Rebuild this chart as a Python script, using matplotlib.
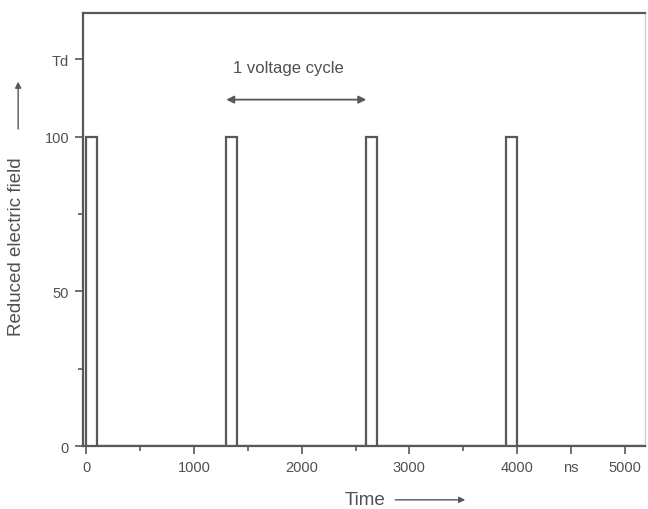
import matplotlib.pyplot as plt
import numpy as np

plt.rcParams['font.family'] = ['Liberation Sans', 'DejaVu Sans']

# Data
pulse_starts = [0, 1300, 2600, 3900]   # ns
pulse_width = 100                      # ns
pulse_height = 100
x_end = 5185

x_ticks = [0, 1000, 2000, 3000, 4000, 4500, 5000]
x_tick_labels = ['0', '1000', '2000', '3000', '4000', 'ns', '5000']
x_minor = [500, 1500, 2500, 3500]
y_ticks = [0, 50, 100, 125]
y_tick_labels = ['0', '50', '100', 'Td']
y_minor = [25, 75]

# build the pulse train as a polyline
xs, ys = [], []
for s in pulse_starts:
    xs += [s, s, s + pulse_width, s + pulse_width]
    ys += [0, pulse_height, pulse_height, 0]
xs.append(x_end)
ys.append(0)

ink = '#585858'
txt = '#505050'

fig = plt.figure(figsize=(6.48, 5.10), dpi=100, facecolor='white')
ax = fig.add_axes([0.128, 0.1235, 0.867, 0.849])

ax.plot(xs, ys, color=ink, linewidth=1.6, solid_joinstyle='miter')

ax.set_xlim(-30, x_end)
ax.set_ylim(0, 140)

ax.set_xticks(x_ticks)
ax.set_xticklabels(x_tick_labels)
ax.set_xticks(x_minor, minor=True)
ax.set_yticks(y_ticks)
ax.set_yticklabels(y_tick_labels)
ax.set_yticks(y_minor, minor=True)
ax.tick_params(which='major', direction='out', length=6, width=1.2, colors=ink,
               labelcolor=txt, labelsize=10.5, pad=4)
ax.tick_params(which='minor', direction='out', length=3.5, width=1.2, colors=ink)

for side in ['left', 'bottom', 'top']:
    ax.spines[side].set_color(ink)
    ax.spines[side].set_linewidth(1.6)
ax.spines['right'].set_color('#d0d0d0')
ax.spines['right'].set_linewidth(1.0)

# voltage cycle annotation
ax.annotate('', xy=(2600, 112), xytext=(1300, 112),
            arrowprops=dict(arrowstyle='<|-|>', color=ink, lw=1.3,
                            mutation_scale=11, shrinkA=0, shrinkB=0))
ax.text(1360, 122.5, '1 voltage cycle', fontsize=12, color=txt, ha='left', va='center')

# axis labels with arrows
fig.text(0.026, 0.516, 'Reduced electric field', rotation=90, fontsize=13.5,
         color=txt, ha='center', va='center')
ax.annotate('', xy=(0.028, 0.838), xytext=(0.028, 0.745), xycoords='figure fraction',
            textcoords='figure fraction',
            arrowprops=dict(arrowstyle='-|>', color=ink, lw=1.0, mutation_scale=9,
                            shrinkA=0, shrinkB=0))
fig.text(0.563, 0.018, 'Time', fontsize=13.5, color=txt, ha='center', va='center')
ax.annotate('', xy=(0.718, 0.018), xytext=(0.61, 0.018), xycoords='figure fraction',
            textcoords='figure fraction',
            arrowprops=dict(arrowstyle='-|>', color=ink, lw=1.0, mutation_scale=9,
                            shrinkA=0, shrinkB=0))

fig.savefig('out.png', dpi=100, facecolor='white')
